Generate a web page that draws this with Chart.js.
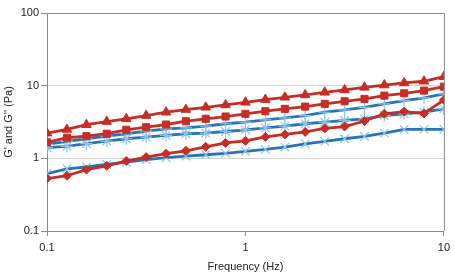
<!DOCTYPE html>
<html>
<head>
<meta charset="utf-8">
<script src="https://cdn.jsdelivr.net/npm/chart.js@4/dist/chart.umd.min.js"></script>
<style>
  html, body { margin: 0; padding: 0; background: #fff; }
  #wrap { width: 455px; height: 278px; }
</style>
</head>
<body>
<div id="wrap"><canvas id="myChart" width="455" height="278"></canvas></div>
<script>
// frequency points (Hz)
var freq = [0.1, 0.126, 0.158, 0.2, 0.251, 0.316, 0.398, 0.501, 0.631, 0.794, 1,
            1.26, 1.58, 2, 2.51, 3.16, 3.98, 5.01, 6.31, 7.94, 10]

// red series (triangles, squares, diamonds)
var redTri = [2.22, 2.5, 2.9, 3.21, 3.5, 3.88, 4.31, 4.69, 5.04, 5.44, 5.9,
              6.43, 6.92, 7.46, 8.1, 8.73, 9.48, 10.2, 10.9, 11.5, 13.3]
var redSq = [1.66, 1.92, 2.02, 2.18, 2.47, 2.68, 2.92, 3.24, 3.5, 3.76, 4.1,
             4.45, 4.8, 5.15, 5.61, 6.1, 6.57, 7.29, 7.85, 8.55, 9.69]
var redDia = [0.527, 0.576, 0.7, 0.79, 0.918, 1.04, 1.16, 1.27, 1.44, 1.63, 1.74,
              1.97, 2.13, 2.31, 2.58, 2.74, 3.26, 4.1, 4.4, 4.14, 6.37]

// blue series
var blueTop = [1.56, 1.71, 1.86, 2.02, 2.18, 2.37, 2.55, 2.63, 2.77, 2.99, 3.14,
               3.39, 3.61, 3.88, 4.31, 4.65, 5.04, 5.61, 6.23, 6.78, 7.7]
var blueMid = [1.4, 1.46, 1.59, 1.73, 1.86, 1.96, 2.07, 2.18, 2.22, 2.34, 2.47,
               2.63, 2.77, 2.99, 3.14, 3.32, 3.5, 3.88, 4.1, 4.31, 4.8]
var blueLow = [0.617, 0.718, 0.76, 0.828, 0.89, 0.96, 1.02, 1.07, 1.12, 1.17, 1.25,
               1.33, 1.43, 1.58, 1.71, 1.86, 2.0, 2.22, 2.5, 2.5, 2.5]

var yTicks = [0.1, 1, 10, 100]
var xTicks = [0.1, 1, 10]

var red = "#c62d25"
var blue = "#2674b8"
var lightBlue = "#8ec3e6"

function pts(arr){
    return arr.map(function(v, i){ return {x: freq[i], y: v} })
}

function redSet(arr, style, r){
    return {
        data: pts(arr),
        borderColor: red,
        backgroundColor: red,
        borderWidth: 2.8,
        pointStyle: style,
        pointRadius: r,
        pointBorderWidth: 1,
        tension: 0
    }
}

function blueSet(arr, style){
    return {
        data: pts(arr),
        borderColor: blue,
        backgroundColor: lightBlue,
        pointBorderColor: lightBlue,
        borderWidth: 2.8,
        pointStyle: style,
        pointRadius: 6,
        pointBorderWidth: 1.2,
        tension: 0
    }
}

// box round the plot area (top and right edges)
var frame = {
    id: "frame",
    afterDraw: function(chart){
        var a = chart.chartArea, ctx = chart.ctx
        ctx.save()
        ctx.strokeStyle = "#888"
        ctx.lineWidth = 1
        ctx.beginPath()
        ctx.moveTo(a.left, a.top + 0.5)
        ctx.lineTo(a.right + 0.5, a.top + 0.5)
        ctx.lineTo(a.right + 0.5, a.bottom)
        ctx.stroke()
        ctx.restore()
    }
}

var ctx = document.getElementById("myChart").getContext("2d")

var chart = new Chart(ctx, {
    type: "line",
    data: {
        datasets: [
            redSet(redTri, "triangle", 5.5),
            redSet(redSq, "rect", 5),
            redSet(redDia, "rectRot", 4.5),
            blueSet(blueTop, "cross"),
            blueSet(blueMid, "star"),
            blueSet(blueLow, "crossRot")
        ]
    },
    plugins: [frame],
    options: {
        responsive: false,
        animation: false,
        layout: { padding: { top: 13, right: 9, left: 0, bottom: 0 } },
        plugins: { legend: { display: false }, tooltip: { enabled: false } },
        scales: {
            x: {
                type: "logarithmic",
                min: 0.1,
                max: 10,
                afterBuildTicks: function(s){ s.ticks = xTicks.map(function(v){ return {value: v} }) },
                afterFit: function(s){ s.height = 47 },
                ticks: {
                    color: "#222",
                    padding: 5,
                    maxRotation: 0,
                    font: { family: "Liberation Sans, Arial", size: 11 },
                    callback: function(v){ return String(v) }
                },
                grid: { drawOnChartArea: false, color: "#888", tickLength: 5 },
                border: { color: "#888" },
                title: {
                    display: true,
                    text: "Frequency (Hz)",
                    color: "#222",
                    padding: { top: 1 },
                    font: { family: "Liberation Sans, Arial", size: 11 }
                }
            },
            y: {
                type: "logarithmic",
                min: 0.1,
                max: 100,
                afterBuildTicks: function(s){ s.ticks = yTicks.map(function(v){ return {value: v} }) },
                afterFit: function(s){ s.width = 47 },
                ticks: {
                    color: "#222",
                    padding: 2,
                    font: { family: "Liberation Sans, Arial", size: 11 },
                    callback: function(v){ return String(v) }
                },
                grid: {
                    color: function(c){
                        var v = c.tick && c.tick.value
                        return (v == 100 || v == 0.1) ? "#888" : "#d4d4d4"
                    },
                    tickColor: "#888",
                    tickLength: 6
                },
                border: { color: "#888" },
                title: {
                    display: true,
                    text: "G' and G'' (Pa)",
                    color: "#222",
                    padding: { top: 2, bottom: 0 },
                    font: { family: "Liberation Sans, Arial", size: 11 }
                }
            }
        }
    }
})
</script>
</body>
</html>
